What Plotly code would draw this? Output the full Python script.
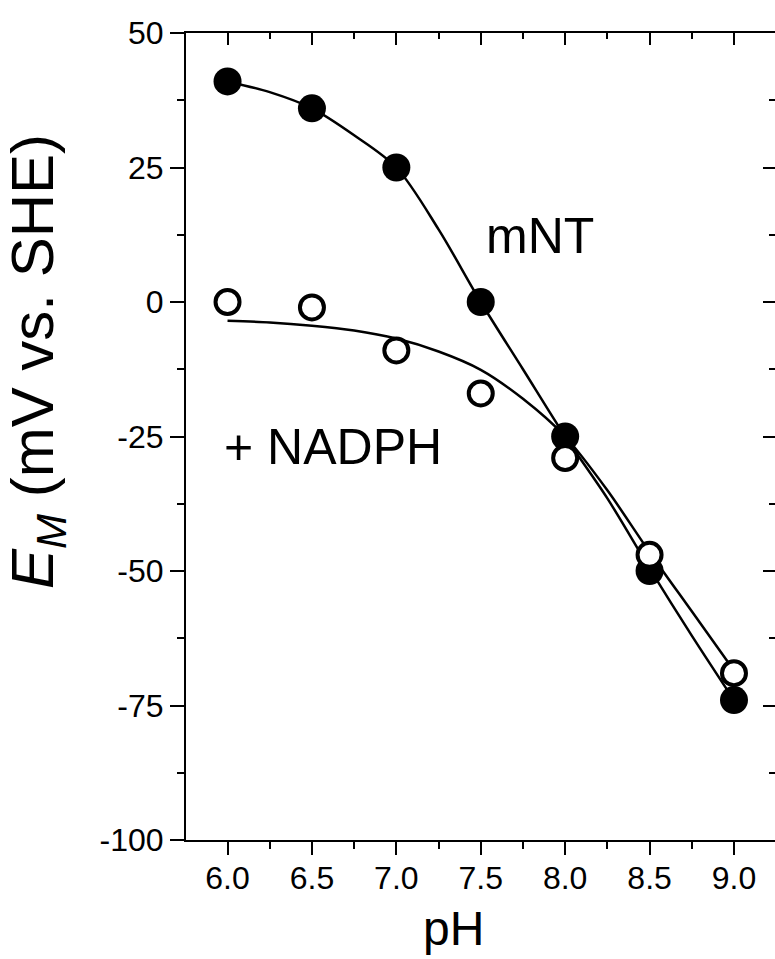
import plotly.graph_objects as go

# Measured data
ph = [6.0, 6.5, 7.0, 7.5, 8.0, 8.5, 9.0]
em_mnt = [41, 36, 25, 0, -25, -50, -74]
em_nadph = [0, -1, -9, -17, -29, -47, -69]

# Fitted curves
fit_ph = [6.0, 6.25, 6.5, 6.75, 7.0, 7.25, 7.5, 7.75, 8.0, 8.25, 8.5, 8.75, 9.0]
fit_mnt = [41, 39, 36, 31, 25, 13.5, 0, -12.5, -25, -36.5, -49.5, -62, -74]
fit_nadph = [-3.5, -3.8, -4.4, -5.3, -6.8, -9.2, -12.6, -18, -25, -35, -46.5, -57.5, -68.5]

y_ticks = [-100, -75, -50, -25, 0, 25, 50]
y_ticktext = ["-100", "-75", "-50", "-25", "0", "25", "50"]
y_minor = [-87.5, -62.5, -37.5, -12.5, 12.5, 37.5]
x_ticks = [6.0, 6.5, 7.0, 7.5, 8.0, 8.5, 9.0]
x_ticktext = ["6.0", "6.5", "7.0", "7.5", "8.0", "8.5", "9.0"]
x_minor = [5.75, 6.25, 6.75, 7.25, 7.75, 8.25, 8.75, 9.25]

FONT = "Arial, Liberation Sans, sans-serif"
XR = [5.754, 9.243]
YR = [-100, 50]

fig = go.Figure()
fig.add_trace(go.Scatter(x=fit_ph, y=fit_mnt, mode="lines",
                         line=dict(color="black", width=2.5, shape="spline", smoothing=0.9),
                         showlegend=False))
fig.add_trace(go.Scatter(x=fit_ph, y=fit_nadph, mode="lines",
                         line=dict(color="black", width=2.5, shape="spline", smoothing=0.8),
                         showlegend=False))
fig.add_trace(go.Scatter(x=ph, y=em_mnt, mode="markers",
                         marker=dict(symbol="circle", size=28, color="black",
                                     line=dict(width=0)),
                         showlegend=False))
fig.add_trace(go.Scatter(x=ph, y=em_nadph, mode="markers",
                         marker=dict(symbol="circle", size=24, color="white",
                                     line=dict(width=4, color="black")),
                         showlegend=False))
# empty trace to activate top/right axes
fig.add_trace(go.Scatter(x=[None], y=[None], xaxis="x2", yaxis="y2",
                         mode="markers", showlegend=False, hoverinfo="skip"))

fig.update_layout(
    width=775, height=959,
    margin=dict(l=186, r=0, t=33, b=119),
    paper_bgcolor="white", plot_bgcolor="white",
    xaxis=dict(range=XR, showgrid=False, zeroline=False,
               showline=True, linecolor="black", linewidth=2,
               tickmode="array", tickvals=x_ticks, ticktext=x_ticktext,
               ticks="outside", ticklen=13, tickwidth=2, tickcolor="black",
               ticklabelstandoff=-4,
               tickfont=dict(family=FONT, size=32, color="black"),
               minor=dict(tickmode="array", tickvals=x_minor, ticks="outside",
                          ticklen=7, tickwidth=2, tickcolor="black", showgrid=False)),
    yaxis=dict(range=YR, showgrid=False, zeroline=False,
               showline=True, linecolor="black", linewidth=2,
               tickmode="array", tickvals=y_ticks, ticktext=y_ticktext,
               ticks="outside", ticklen=14, tickwidth=2, tickcolor="black",
               tickfont=dict(family=FONT, size=32, color="black"),
               minor=dict(tickmode="array", tickvals=y_minor, ticks="outside",
                          ticklen=7, tickwidth=2, tickcolor="black", showgrid=False)),
    xaxis2=dict(range=XR, overlaying="x", side="top", anchor="y",
                showgrid=False, zeroline=False, showticklabels=False,
                showline=True, linecolor="black", linewidth=2,
                tickmode="array", tickvals=x_ticks,
                ticks="inside", ticklen=12, tickwidth=2, tickcolor="black",
                minor=dict(tickmode="array", tickvals=x_minor, ticks="inside",
                           ticklen=6, tickwidth=2, tickcolor="black", showgrid=False)),
    yaxis2=dict(range=YR, overlaying="y", side="right", anchor="x",
                showgrid=False, zeroline=False, showticklabels=False,
                showline=False,
                tickmode="array", tickvals=y_ticks,
                ticks="inside", ticklen=12, tickwidth=2, tickcolor="black",
                minor=dict(tickmode="array", tickvals=y_minor, ticks="inside",
                           ticklen=6, tickwidth=2, tickcolor="black", showgrid=False)),
    annotations=[
        dict(text="pH", xref="paper", yref="paper",
             x=(453 - 186) / 589, y=-(928 - 840) / 807,
             showarrow=False, font=dict(family=FONT, size=48, color="black"),
             xanchor="center", yanchor="middle"),
        dict(text="<i>E</i><sub><i>M</i></sub> (mV vs. SHE)", xref="paper", yref="paper",
             x=-(186 - 37) / 589, y=(840 - 362) / 807, textangle=-90,
             showarrow=False, font=dict(family=FONT, size=60, color="black"),
             xanchor="center", yanchor="middle"),
        dict(text="mNT", xref="paper", yref="paper",
             x=(540 - 186) / 589, y=(840 - 236) / 807,
             showarrow=False, font=dict(family=FONT, size=50, color="black"),
             xanchor="center", yanchor="middle"),
        dict(text="+ NADPH", xref="paper", yref="paper",
             x=(333 - 186) / 589, y=(840 - 447) / 807,
             showarrow=False, font=dict(family=FONT, size=50, color="black"),
             xanchor="center", yanchor="middle"),
    ],
)

fig.write_html("out.html")
